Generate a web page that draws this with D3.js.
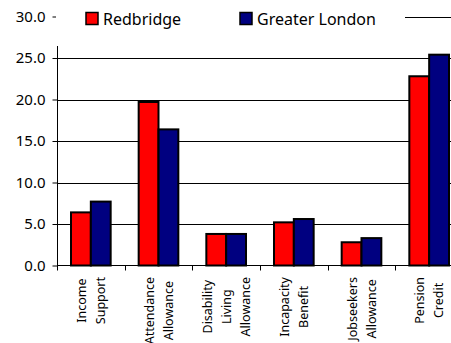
<!DOCTYPE html>
<html>
<head>
<meta charset="utf-8">
<script src="https://cdn.jsdelivr.net/npm/d3@7"></script>
<style>
    body { margin: 0; background: #fff; }
    svg text { font-family: "Noto Sans", "Open Sans", sans-serif; fill: #000; }
</style>
</head>
<body>
<div id="chart"></div>
<script>
var categories = [
    ["Income", "Support"],
    ["Attendance", "Allowance"],
    ["Disability", "Living", "Allowance"],
    ["Incapacity", "Benefit"],
    ["Jobseekers", "Allowance"],
    ["Pension", "Credit"]
];
var seriesNames = ["Redbridge", "Greater London"];
var redbridge = [6.4, 19.7, 3.8, 5.2, 2.8, 22.8];
var london = [7.7, 16.4, 3.8, 5.6, 3.3, 25.4];
var yTicks = [0, 5, 10, 15, 20, 25, 30];
var colors = ["#ff0000", "#000080"];

var width = 451, height = 343;

var svg = d3.select("#chart").append("svg")
    .attr("width", width)
    .attr("height", height);

var catIdx = d3.range(categories.length);

var x = d3.scaleBand()
    .domain(catIdx)
    .range([57, 463]);

var xs = d3.scaleBand()
    .domain([0, 1])
    .range([14, x.bandwidth() - 14]);

var y = d3.scaleLinear()
    .domain([0, 30])
    .range([265.5, 16.5]);

// gridlines
svg.append("g")
    .selectAll("line")
    .data(yTicks.slice(1))
    .enter()
        .append("line")
        .attr("x1", 57).attr("x2", width)
        .attr("y1", function(d) { return Math.round(y(d)) + 0.5; })
        .attr("y2", function(d) { return Math.round(y(d)) + 0.5; })
        .attr("stroke", "#000")
        .attr("stroke-width", 1);

// bars
var groups = svg.append("g")
    .selectAll("g")
    .data(catIdx)
    .enter()
        .append("g")
        .attr("transform", function(i) { return "translate(" + x(i) + ",0)"; });

groups.selectAll("rect")
    .data(function(i) { return [redbridge[i], london[i]]; })
    .enter()
        .append("rect")
        .attr("x", function(d, j) { return xs(j); })
        .attr("width", xs.bandwidth())
        .attr("y", function(d) { return y(d); })
        .attr("height", function(d) { return y(0) - y(d); })
        .attr("fill", function(d, j) { return colors[j]; })
        .attr("stroke", "#000")
        .attr("stroke-width", 2);

// y axis
var yAxis = svg.append("g")
    .attr("transform", "translate(57.5,0)")
    .call(d3.axisLeft(y)
        .tickValues(yTicks)
        .tickSize(5)
        .tickPadding(7)
        .tickFormat(d3.format(".1f")));
yAxis.select(".domain").remove();
yAxis.selectAll("text")
    .style("font-size", "15px")
    .style("font-family", "'Noto Sans', 'Open Sans', sans-serif");
svg.append("line")
    .attr("x1", 57.5).attr("x2", 57.5)
    .attr("y1", 46).attr("y2", y(0))
    .attr("stroke", "#000");

// x axis
svg.append("line")
    .attr("x1", 57).attr("x2", width)
    .attr("y1", y(0)).attr("y2", y(0))
    .attr("stroke", "#000");
svg.append("g")
    .selectAll("line")
    .data(d3.range(categories.length + 1))
    .enter()
        .append("line")
        .attr("x1", function(i) { return Math.round(x.step() * i + 57) + 0.5; })
        .attr("x2", function(i) { return Math.round(x.step() * i + 57) + 0.5; })
        .attr("y1", y(0))
        .attr("y2", y(0) + 5)
        .attr("stroke", "#000");

// category labels, rotated; longest line starts at y=278, lines centred in block
var labels = svg.append("g")
    .selectAll("g")
    .data(catIdx)
    .enter()
        .append("g");
labels.each(function(i) {
    var lines = categories[i];
    var n = lines.length;
    var g = d3.select(this);
    var texts = g.selectAll("text")
        .data(lines)
        .enter()
            .append("text")
            .attr("x", 0)
            .attr("y", function(d, k) { return (k - (n - 1) / 2) * 19 + 4.5; })
            .attr("text-anchor", "middle")
            .attr("font-size", "12.5px")
            .text(function(d) { return d; });
    var maxLen = d3.max(texts.nodes(), function(t) { return t.getComputedTextLength(); });
    g.attr("transform", "translate(" + (x(i) + x.bandwidth() / 2) + "," + (277 + maxLen / 2) + ") rotate(-90)");
});

// legend box covering top of plot
svg.append("rect")
    .attr("x", 56).attr("y", 0)
    .attr("width", 349).attr("height", 45)
    .attr("fill", "#fff");

var legendX = [86, 240];
var legend = svg.append("g")
    .selectAll("g")
    .data(seriesNames)
    .enter()
        .append("g")
        .attr("transform", function(d, j) { return "translate(" + legendX[j] + ",12.5)"; });
legend.append("rect")
    .attr("width", 12).attr("height", 12)
    .attr("fill", function(d, j) { return colors[j]; })
    .attr("stroke", "#000")
    .attr("stroke-width", 1.5);
legend.append("text")
    .attr("x", 17)
    .attr("y", 12)
    .attr("font-size", "16px")
    .text(function(d) { return d; });
</script>
</body>
</html>
